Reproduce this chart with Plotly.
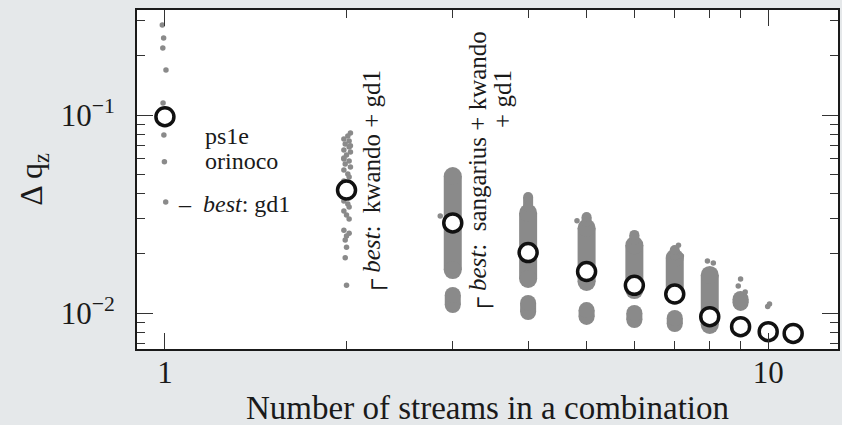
import plotly.graph_objects as go

# ---------------- data ----------------
n_streams = [1, 2, 3, 4, 5, 6, 7, 8, 9, 10, 11]
dq_best = [0.098, 0.0418, 0.0285, 0.0202, 0.0162, 0.0138, 0.01247,
           0.00958, 0.00853, 0.00805, 0.00789]

# dense parts of the combination clouds (centres of the rounded ends):
# column, lower value, upper value
main_band_n = [3, 4, 5, 6, 7, 8]
main_band_lo = [0.01648, 0.01486, 0.01435, 0.01306, 0.01276, 0.00870]
main_band_hi = [0.0492, 0.0320, 0.0269, 0.0220, 0.0190, 0.01556]

tip_band_n = [4, 5, 6, 7]
tip_band_lo = [0.0343, 0.0288, 0.0234, 0.0196]
tip_band_hi = [0.0385, 0.0305, 0.0248, 0.0208]

low_band_n = [3, 4, 5, 6, 7, 9]
low_band_lo = [0.01097, 0.01011, 0.00955, 0.00922, 0.00880, 0.01124]
low_band_hi = [0.01233, 0.01124, 0.01035, 0.01000, 0.00944, 0.01177]

# isolated combinations
single_n = [0.99, 0.995, 0.992, 1.004, 0.993, 0.996, 0.998, 1.003]
single_dq = [0.2847, 0.245, 0.218, 0.169, 0.115, 0.0792, 0.058, 0.0364]

pair_n = [2.03, 2.01, 1.98, 2.02, 1.99, 2.02, 1.98, 2.03, 2.00, 1.98, 2.02,
          1.99, 2.03, 1.98, 2.01, 2.02, 1.98, 2.00, 1.99, 2.02, 1.98, 2.01,
          2.02, 1.98, 2.00, 2.02, 1.98, 2.02, 2.00, 1.99, 2.00, 1.99, 2.00,
          2.03, 1.98]
pair_dq = [0.0811, 0.0783, 0.0756, 0.0739, 0.0714, 0.0689, 0.0666, 0.0650,
           0.0628, 0.0607, 0.0586, 0.0566, 0.0546, 0.0528, 0.0504, 0.0486,
           0.0464, 0.0443, 0.0394, 0.0381, 0.0368, 0.0355, 0.0343, 0.0327,
           0.0313, 0.0298, 0.0262, 0.0253, 0.0245, 0.0234, 0.0215, 0.0190,
           0.0138, 0.0700, 0.0600]

extra_n = [2.86, 4.82, 7.10, 7.18, 7.93, 8.11, 9.00, 8.92, 9.16, 10.05, 9.98]
extra_dq = [0.0309, 0.0292, 0.0220, 0.0194, 0.0183, 0.01789, 0.01486,
            0.01369, 0.01276, 0.0111, 0.0108]

x_tick_vals = [1, 10]
x_tick_text = ["1", "10"]
y_tick_vals = [0.01, 0.1]
y_tick_text = ["10<sup>−2</sup>", "10<sup>−1</sup>"]
x_minor_vals = [2, 3, 4, 5, 6, 7, 8, 9]
y_minor_vals = [0.007, 0.008, 0.009, 0.02, 0.03, 0.04, 0.05, 0.06, 0.07,
                0.08, 0.09, 0.2, 0.3]

# ---------------- figure ----------------
GRAY = "#8a8a8a"
FONT = "Liberation Serif"
fig = go.Figure()


def add_bands(ns, los, his, width):
    for n, lo, hi in zip(ns, los, his):
        fig.add_trace(go.Scatter(
            x=[n, n], y=[lo, hi], mode="lines+markers",
            line=dict(color=GRAY, width=width),
            marker=dict(color=GRAY, size=width, line=dict(width=0)),
            hoverinfo="skip", showlegend=False))


add_bands(main_band_n, main_band_lo, main_band_hi, 18)
add_bands(tip_band_n, tip_band_lo, tip_band_hi, 10)
add_bands(low_band_n, low_band_lo, low_band_hi, 16)

for xs, ys in [(single_n, single_dq), (pair_n, pair_dq), (extra_n, extra_dq)]:
    fig.add_trace(go.Scatter(
        x=xs, y=ys, mode="markers",
        marker=dict(color=GRAY, size=5.5, line=dict(width=0)),
        showlegend=False))

fig.add_trace(go.Scatter(
    x=n_streams, y=dq_best, mode="markers",
    marker=dict(symbol="circle", size=18, color="white",
                line=dict(color="#111111", width=3.5)),
    showlegend=False))

# ---------------- layout ----------------
L, R, T, B = 137, 2, 10, 76
W, H = 842, 425
pw, ph = W - L - R, H - T - B


def px_to_xlog(px):
    return (px - 165) / 605.0


def px_to_ylog(py):
    return -1 - (py - 115) / 198.0


axis_common = dict(
    type="log", showline=True, linecolor="#1a1a1a", linewidth=2,
    mirror="allticks", ticks="inside", ticklen=16, tickwidth=1.3,
    tickcolor="#333333", showgrid=False, zeroline=False,
    tickfont=dict(family=FONT, size=31, color="#1a1a1a"),
)

fig.update_layout(
    width=W, height=H,
    margin=dict(l=L, r=R, t=T, b=B),
    paper_bgcolor="#e5e8ea", plot_bgcolor="white",
    xaxis=dict(axis_common, range=[px_to_xlog(137), px_to_xlog(840)],
               tickmode="array", tickvals=x_tick_vals, ticktext=x_tick_text,
               ticklabelstandoff=-5,
               minor=dict(tickmode="array", tickvals=x_minor_vals,
                          ticks="inside", ticklen=8, tickwidth=1.2,
                          tickcolor="#333333", showgrid=False)),
    yaxis=dict(axis_common, range=[px_to_ylog(349), px_to_ylog(10)],
               tickmode="array", tickvals=y_tick_vals, ticktext=y_tick_text,
               ticklabelstandoff=14,
               minor=dict(tickmode="array", tickvals=y_minor_vals,
                          ticks="inside", ticklen=8, tickwidth=1.2,
                          tickcolor="#333333", showgrid=False)),
    showlegend=False,
)

NB = "\u00a0"
CORNER = "┌"
ann_font = dict(family=FONT, size=24, color="#1a1a1a")
rot_font = dict(family=FONT, size=25, color="#1a1a1a")
annotations = [
    dict(x=px_to_xlog(203), y=px_to_ylog(136), text="ps1e",
         xanchor="left", yanchor="middle", font=ann_font),
    dict(x=px_to_xlog(203), y=px_to_ylog(161), text="orinoco",
         xanchor="left", yanchor="middle", font=ann_font),
    dict(x=px_to_xlog(176), y=px_to_ylog(204), text="–" + NB + NB + "<i>best</i>: gd1",
         xanchor="left", yanchor="middle", font=ann_font),
    dict(x=px_to_xlog(373), y=px_to_ylog(299),
         text=CORNER + NB + "<i>best</i>:" + NB * 2 + "kwando" + NB + "+" + NB + "gd1",
         xanchor="center", yanchor="bottom", textangle=-90, font=rot_font),
    dict(x=px_to_xlog(480), y=px_to_ylog(317),
         text=CORNER + NB + "<i>best</i>:" + NB * 2 + "sangarius" + NB + "+" + NB + "kwando",
         xanchor="center", yanchor="bottom", textangle=-90, font=rot_font),
    dict(x=px_to_xlog(503), y=px_to_ylog(130), text="+" + NB + "gd1",
         xanchor="center", yanchor="bottom", textangle=-90, font=rot_font),
]
for a in annotations:
    fig.add_annotation(xref="x", yref="y", showarrow=False, **a)

fig.add_annotation(xref="paper", yref="paper", x=(33 - L) / pw, y=0.5,
                   text="Δ q<sub>z</sub>", textangle=-90, showarrow=False,
                   xanchor="center", yanchor="middle",
                   font=dict(family=FONT, size=32, color="#1a1a1a"))
fig.add_annotation(xref="paper", yref="paper", x=0.5, y=(349 - 408) / ph,
                   text="Number of streams in a combination", showarrow=False,
                   xanchor="center", yanchor="middle",
                   font=dict(family=FONT, size=33, color="#1a1a1a"))

fig.write_html("out.html")
